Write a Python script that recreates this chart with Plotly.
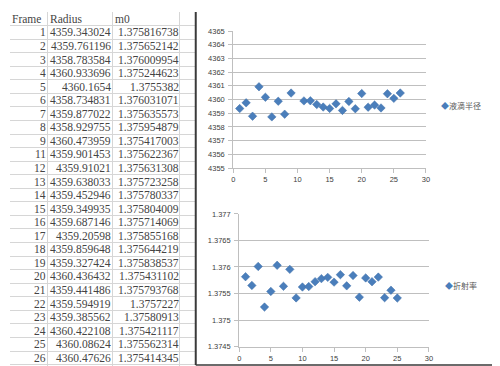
import plotly.graph_objects as go

# ---- data ----
frames = [1, 2, 3, 4, 5, 6, 7, 8, 9, 11, 12, 13, 14, 15, 16, 17, 18, 19, 20, 21, 22, 23, 24, 25, 26]
radius = [4359.343024, 4359.761196, 4358.783584, 4360.933696, 4360.1654, 4358.734831,
          4359.877022, 4358.929755, 4360.473959, 4359.901453, 4359.91021, 4359.638033,
          4359.452946, 4359.349935, 4359.687146, 4359.20598, 4359.859648, 4359.327424,
          4360.436432, 4359.441486, 4359.594919, 4359.385562, 4360.422108, 4360.08624,
          4360.47626]
m0 = [1.375816738, 1.375652142, 1.376009954, 1.375244623, 1.3755382, 1.376031071,
      1.375635573, 1.375954879, 1.375417003, 1.375622367, 1.375631308, 1.375723258,
      1.375780337, 1.375804009, 1.375714069, 1.375855168, 1.375644219, 1.375838537,
      1.375431102, 1.375793768, 1.3757227, 1.37580913, 1.375421117, 1.375562314,
      1.375414345]
m0_index = list(range(1, len(m0) + 1))   # Excel plotted m0 against point index
headers = ["Frame", "Radius", "m0"]
x_ticks = [0, 5, 10, 15, 20, 25, 30]
radius_ticks = [4355, 4356, 4357, 4358, 4359, 4360, 4361, 4362, 4363, 4364, 4365]
m0_tickvals = [1.3745, 1.375, 1.3755, 1.376, 1.3765, 1.377]
m0_ticktext = ["1.3745", "1.375", "1.3755", "1.376", "1.3765", "1.377"]
legend_radius = "液滴半径"
legend_m0 = "折射率"

W, H = 500, 366
BLUE = "#4a7ebb"
GRID = "#bfbfbf"
TICKC = "#404040"


def px(xp):
    return xp / W


def py(yp):
    return 1 - yp / H


fig = go.Figure()

# ---- charts ----
mk = dict(symbol="diamond", size=6.5, color=BLUE, line=dict(color="#3f6fa8", width=0.5))
fig.add_trace(go.Scatter(x=frames, y=radius, mode="markers", marker=mk, name=legend_radius,
                         xaxis="x", yaxis="y", showlegend=False))
fig.add_trace(go.Scatter(x=m0_index, y=m0, mode="markers", marker=mk, name=legend_m0,
                         xaxis="x2", yaxis="y2", showlegend=False))

# invisible anchor trace for the table axes
fig.add_trace(go.Scatter(x=[0], y=[0], mode="markers", marker=dict(size=0, opacity=0),
                         xaxis="x3", yaxis="y3", hoverinfo="skip", showlegend=False))

# ---- spreadsheet table as text placed on a hidden axis pair (row index as y) ----
tfont = dict(family="Liberation Serif, Times New Roman, serif", size=11.5, color="#444444")
col_right = [36, 102, 171]
col_left = [2, 40, 106]
annotations = []
for ci, h in enumerate(headers):
    annotations.append(dict(xref="x3", yref="y3", x=col_left[ci], y=0, text=h, xanchor="left",
                            yanchor="middle", showarrow=False, font=tfont, borderpad=0, borderwidth=0))
for ci, col in enumerate([frames, radius, m0]):
    for ri, v in enumerate(col):
        annotations.append(dict(xref="x3", yref="y3", x=col_right[ci], y=ri + 1, text=str(v),
                                xanchor="right", yanchor="middle", showarrow=False, font=tfont,
                                borderpad=0, borderwidth=0))

annotations += [
    dict(xref="paper", yref="paper", x=px(434), y=py(96), xanchor="left", yanchor="middle",
         text=f'<span style="color:{BLUE}">◆</span>{legend_radius}', showarrow=False,
         font=dict(family="Noto Sans CJK SC", size=8, color="#595959")),
    dict(xref="paper", yref="paper", x=px(438), y=py(280), xanchor="left", yanchor="middle",
         text=f'<span style="color:{BLUE}">◆</span>{legend_m0}', showarrow=False,
         font=dict(family="Noto Sans CJK SC", size=8, color="#595959")),
]

axfont = dict(family="Liberation Sans, Arial, sans-serif", size=7.5, color=TICKC)
common_x = dict(range=[0, 30], tickvals=x_ticks, showgrid=False, zeroline=False, showline=True,
                linecolor=GRID, linewidth=1, ticks="outside", ticklen=4, tickcolor=GRID,
                tickfont=axfont, fixedrange=True)
common_y = dict(showgrid=True, gridcolor=GRID, gridwidth=1, zeroline=False, showline=True,
                linecolor=GRID, linewidth=1, ticks="outside", ticklen=4, tickcolor=GRID,
                tickfont=axfont, fixedrange=True, ticklabelstandoff=2)

n = len(frames)
row_h = 13.9
r_top = -7 / row_h
r_bot = (H - 7) / row_h

fig.update_layout(
    width=W, height=H,
    margin=dict(l=0, r=0, t=0, b=0),
    paper_bgcolor="white", plot_bgcolor="white",
    xaxis=dict(domain=[px(226), px(421)], anchor="y", **common_x),
    yaxis=dict(domain=[py(160), py(19.5)], anchor="x", range=[4355, 4365], tickvals=radius_ticks, **common_y),
    xaxis2=dict(domain=[px(232), px(424)], anchor="y2", **common_x),
    yaxis2=dict(domain=[py(343), py(207)], anchor="x2", range=[1.3745, 1.377], tickvals=m0_tickvals,
                ticktext=m0_ticktext, **common_y),
    xaxis3=dict(domain=[0, px(187)], anchor="y3", range=[0, 187], showticklabels=False, ticks="",
                tickvals=[38, 104, 172], showgrid=True, gridcolor="#d6d6d6", gridwidth=1,
                zeroline=False, showline=False, fixedrange=True),
    yaxis3=dict(domain=[0, 1], anchor="x3", range=[r_bot, r_top], showticklabels=False, ticks="",
                tickvals=[i + 0.5 for i in range(n + 1)], showgrid=True, gridcolor="#d6d6d6",
                gridwidth=1, zeroline=False, showline=False, fixedrange=True),
    annotations=annotations,
    shapes=[
        dict(type="line", xref="paper", yref="paper", x0=px(188), x1=px(188), y0=py(0), y1=py(362),
             line=dict(color="#3a3a3a", width=2)),
        dict(type="line", xref="paper", yref="paper", x0=px(493), x1=px(493), y0=py(0), y1=py(362),
             line=dict(color="#3a3a3a", width=2)),
        dict(type="line", xref="paper", yref="paper", x0=px(188), x1=px(493), y0=py(362), y1=py(362),
             line=dict(color="#3a3a3a", width=1.5)),
    ],
)

fig.write_html("out.html")
